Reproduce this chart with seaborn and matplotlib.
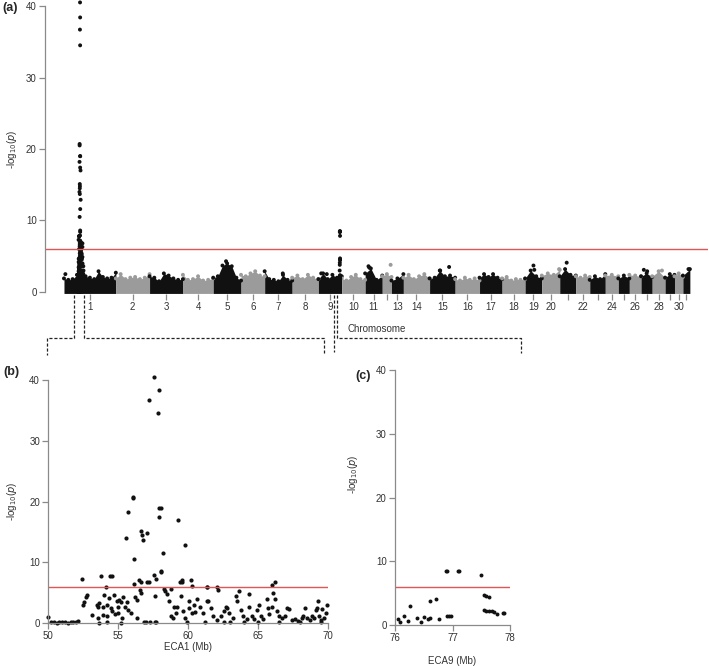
import numpy as np
import pandas as pd
import matplotlib
matplotlib.use("Agg")
import matplotlib.pyplot as plt
from matplotlib.lines import Line2D
import seaborn as sns

# chromosome lengths (Mb), horse autosomes 1..31
chrom_len = [185.8, 120.9, 119.5, 108.6, 99.7, 84.7, 98.5, 94.1, 83.6, 83.9,
             61.3, 33.1, 42.6, 93.9, 91.6, 87.4, 80.8, 82.5, 59.9, 64.2,
             57.7, 49.9, 55.7, 46.7, 39.5, 41.9, 40.0, 46.2, 33.7, 30.1, 25.0]
chrom_tick_labels = ["1", "2", "3", "4", "5", "6", "7", "8", "9", "10",
                     "11", "", "13", "14", "15", "16", "17", "18", "19", "20",
                     "", "22", "", "24", "", "26", "", "28", "", "30", ""]

# upper edge of the dense cloud of SNPs, read along each chromosome
bulk_top = [
    [1.9, 1.7, 1.8, 2.4, 2.5, 2.2, 2.0, 1.8, 2.9, 2.1, 1.9, 2.0, 2.7],
    [1.9, 2.5, 1.8, 2.0, 2.1, 1.8, 2.0, 2.5],
    [2.2, 2.0, 1.5, 2.6, 2.3, 1.9, 1.7, 1.8],
    [2.4, 1.7, 1.8, 2.2, 1.6, 1.7, 1.9],
    [2.0, 2.2, 3.7, 4.0, 3.6, 2.0, 1.6],
    [2.4, 2.2, 2.6, 2.9, 2.3, 2.2],
    [2.9, 1.8, 1.7, 1.5, 2.4, 1.7, 1.6],
    [2.0, 2.3, 1.8, 2.4, 2.0, 1.8],
    [1.8, 2.6, 1.8, 2.4, 2.0, 2.2],
    [1.9, 1.6, 2.1, 2.4, 1.8, 1.7],
    [2.6, 3.3, 1.7, 2.3],
    [2.2, 2.5, 2.1],
    [1.6, 1.9, 2.5],
    [2.0, 2.4, 1.8, 2.2, 2.5, 1.9],
    [1.9, 2.0, 3.0, 2.2, 2.3, 2.0],
    [1.8, 1.6, 2.0, 1.7, 1.9, 1.6],
    [2.0, 2.5, 2.1, 2.5, 2.0, 1.8],
    [1.9, 2.1, 1.6, 1.8, 1.7, 1.8],
    [1.9, 3.0, 2.2, 1.9],
    [2.3, 2.6, 2.4, 3.1],
    [2.2, 3.2, 2.4, 2.3],
    [2.2, 2.0, 2.3, 2.1],
    [1.7, 2.2, 1.8, 2.5],
    [2.3, 2.4, 2.2],
    [1.9, 2.3, 1.9],
    [2.4, 2.3, 2.2],
    [2.2, 2.6, 2.1],
    [2.2, 2.9, 2.0],
    [2.0, 2.5, 2.4],
    [2.2, 2.6, 2.1],
    [2.3, 3.2],
]

# isolated SNPs above the cloud (chromosome, position in Mb, -log10 p)
extra_chr = [1, 5, 11, 11, 12, 15, 15, 19, 19, 21, 27, 27, 28, 20, 31, 7, 9, 9]
extra_mb = [5, 46, 12, 15, 30, 70, 38, 30, 33, 25, 10, 22, 35, 62, 20, 65, 10, 30]
extra_val = [2.5, 4.3, 3.6, 3.4, 3.8, 3.5, 3.0, 3.7, 3.1, 4.1, 3.1, 2.9, 3.0, 3.2, 3.2, 2.6, 2.6, 2.5]

# ECA1 50-70 Mb region
eca1_mb = [57.57, 57.90, 57.20, 57.88, 56.09, 56.09, 55.73, 57.90, 58.04, 57.92,
           59.31, 55.56, 56.66, 56.68, 56.80, 57.06, 59.79, 58.19, 56.13, 58.04,
           58.04, 57.54, 57.73, 59.45, 59.57, 52.39, 53.75, 54.40, 54.55, 54.10,
           56.16, 56.50, 56.60, 57.06, 57.23, 59.57, 60.21, 60.31, 61.34, 61.36,
           62.08, 66.00, 66.23,
           52.46, 52.53, 52.67, 52.80, 53.13, 53.53, 53.48, 53.58, 53.65, 53.90,
           53.90, 54.00, 54.17, 54.22, 54.37, 54.49, 54.56, 54.68, 54.77, 54.92,
           54.96, 55.00, 55.08, 55.18, 55.25, 55.32, 55.47, 55.60, 55.73, 55.90,
           56.23, 56.32, 56.35, 56.56, 56.66, 56.87, 57.30, 57.66, 57.64, 58.30,
           58.38, 58.47, 58.64, 58.78, 58.97, 58.80, 58.95, 59.14, 59.24, 59.50,
           59.64, 59.79, 60.05, 60.05, 60.26, 60.43, 60.52, 60.67, 60.88, 61.10,
           61.38, 61.46, 61.62, 61.81, 62.05, 62.17, 62.36, 62.58, 62.72, 62.82,
           62.96, 63.25, 63.41, 63.53, 63.68, 63.77, 63.91, 64.20, 64.37, 64.39,
           64.58, 64.73, 64.92, 65.10, 65.23, 65.40, 65.63, 65.73, 65.82, 66.00,
           66.10, 66.25, 66.35, 66.54, 66.70, 66.95, 67.06, 67.20, 67.42, 67.66,
           67.90, 68.14, 68.26, 68.38, 68.55, 68.73, 68.90, 69.02, 69.14, 69.21,
           69.33, 69.40, 69.52, 69.60, 69.74, 69.88, 69.98,
           50.00, 50.20, 50.40, 50.60, 50.80, 51.00, 51.20, 51.40, 51.60, 51.80,
           52.00, 52.10, 53.60, 54.20, 55.20, 57.00, 57.70, 59.90, 61.20, 62.60,
           63.00, 64.00, 65.00, 66.50, 68.00, 69.50]
eca1_val = [40.5, 38.4, 36.7, 34.5, 20.5, 20.7, 18.2, 19.0, 19.0, 17.4,
            17.0, 14.0, 15.1, 14.5, 13.7, 14.8, 12.9, 11.6, 10.5, 8.6,
            8.4, 7.9, 7.2, 6.7, 6.7, 7.3, 7.8, 7.8, 7.8, 6.0,
            6.4, 7.0, 6.7, 6.7, 6.7, 7.0, 7.0, 6.1, 6.0, 5.9,
            6.0, 6.3, 6.8,
            2.9, 3.45, 4.2, 4.65, 1.3, 0.9, 3.0, 2.6, 3.3, 2.6,
            1.3, 4.65, 3.0, 1.15, 4.05, 2.5, 1.9, 4.6, 1.5, 3.6,
            2.6, 1.6, 3.8, 3.4, 0.9, 4.2, 2.7, 3.4, 2.2, 1.6,
            4.2, 3.8, 0.9, 5.4, 5.0, 0.1, 0.1, 0.1, 4.5, 5.6,
            5.3, 4.8, 3.7, 5.6, 2.6, 1.2, 0.9, 1.6, 2.7, 4.5,
            1.9, 0.8, 3.7, 2.5, 1.6, 3.0, 1.75, 4.0, 2.7, 1.6,
            3.6, 3.7, 2.5, 1.1, 0.5, 5.5, 1.2, 1.9, 2.7, 2.5,
            1.6, 0.8, 4.5, 3.6, 5.3, 2.1, 1.1, 0.7, 4.7, 2.7,
            1.1, 0.65, 2.1, 3.0, 1.1, 0.65, 3.9, 2.5, 1.5, 2.7,
            4.9, 4.0, 1.9, 1.1, 0.8, 1.1, 2.5, 2.3, 0.55, 0.65,
            0.3, 0.8, 1.1, 2.5, 0.9, 0.55, 1.2, 0.75, 2.1, 2.5,
            3.6, 1.1, 0.55, 2.3, 0.8, 1.6, 3.0,
            1.0, 0.1, 0.2, 0.05, 0.15, 0.1, 0.2, 0.05, 0.1, 0.15,
            0.2, 0.3, 0.05, 0.1, 0.05, 0.1, 0.1, 0.1, 0.1, 0.2,
            0.1, 0.15, 0.1, 0.2, 0.1, 0.15]

# ECA9 76-78 Mb region
eca9_mb = [76.05, 76.09, 76.16, 76.22, 76.26, 76.39, 76.45, 76.50, 76.57, 76.61,
           76.60, 76.71, 76.77, 76.88, 76.91, 76.90, 76.94, 76.97, 77.09, 77.12,
           77.50, 77.55, 77.59, 77.63, 77.55, 77.59, 77.64, 77.68, 77.73, 77.78,
           77.87, 77.90]
eca9_val = [0.95, 0.5, 1.45, 0.7, 3.0, 1.05, 0.5, 1.3, 0.9, 1.05,
            3.8, 4.1, 0.9, 8.4, 8.4, 1.4, 1.4, 1.4, 8.5, 8.5,
            7.85, 4.7, 4.55, 4.45, 2.35, 2.25, 2.2, 2.2, 2.0, 1.75,
            1.85, 1.85]

threshold = 6

DARK = "#111111"
LIGHT = "#9b9b9b"
RED = "#e05555"
AXIS = "#8a8a8a"
TXT = "#333333"
W, H = 709, 666

sns.set_style("ticks")
plt.rcParams["font.family"] = ["Liberation Sans", "DejaVu Sans"]

starts = np.concatenate([[0], np.cumsum(chrom_len)[:-1]])
ends = starts + np.array(chrom_len)
centers = (starts + ends) / 2

fig = plt.figure(figsize=(W / 100, H / 100), dpi=100)


def px_axes(left, top, right, bottom):
    return fig.add_axes([left / W, 1 - bottom / H, (right - left) / W, (bottom - top) / H])


def style_axes(ax, bottom_spine=True):
    sns.despine(ax=ax)
    for s in ["left", "bottom"]:
        ax.spines[s].set_color(AXIS)
        ax.spines[s].set_linewidth(0.9)
    if not bottom_spine:
        ax.spines["bottom"].set_visible(False)
    ax.tick_params(length=4, width=0.9, color=AXIS, labelcolor=TXT, labelsize=7, pad=2)


ylab = r"-log$_{10}$($p$)"

# ---------- (a) genome-wide ----------
ax_a = px_axes(45, 0, 708, 294)
shade = []
bx, by = [], []
for i, tops in enumerate(bulk_top):
    col = DARK if i % 2 == 0 else LIGHT
    xs = np.linspace(starts[i], ends[i], len(tops))
    ax_a.fill_between(xs, -0.2, tops, color=col, lw=0)
    bx += list(xs)
    by += tops
    shade += ["d" if i % 2 == 0 else "l"] * len(tops)

for c, m, v in zip(extra_chr, extra_mb, extra_val):
    bx.append(starts[c - 1] + m)
    by.append(v)
    shade.append("d" if (c - 1) % 2 == 0 else "l")

for m, v in zip(eca1_mb, eca1_val):
    bx.append(starts[0] + m)
    by.append(v)
    shade.append("d")
for m, v in zip(eca9_mb, eca9_val):
    bx.append(starts[8] + m)
    by.append(v)
    shade.append("d")

df_a = pd.DataFrame({"pos": bx, "logp": by, "shade": shade})
sns.scatterplot(data=df_a, x="pos", y="logp", hue="shade", palette={"d": DARK, "l": LIGHT},
                s=8, linewidth=0, legend=False, ax=ax_a, clip_on=False)
ax_a.axhline(threshold, color=RED, lw=1)
ax_a.set_xlim(-68, 2308)
ax_a.set_ylim(-0.28, 40.84)
style_axes(ax_a, bottom_spine=False)
ax_a.spines["left"].set_bounds(0, 40)
ax_a.set_yticks([0, 10, 20, 30, 40])
ax_a.set_xticks(centers)
ax_a.set_xticklabels(chrom_tick_labels)
ax_a.set_xlabel("Chromosome", fontsize=7, color=TXT)
ax_a.xaxis.set_label_coords(0.5, -0.102)
ax_a.set_ylabel(ylab, fontsize=7, color=TXT)
ax_a.yaxis.set_label_coords(-0.039, 0.493)

# ---------- (b) ECA1 ----------
ax_b = px_axes(48.3, 380, 327.7, 623)
df_b = pd.DataFrame({"mb": eca1_mb, "logp": eca1_val})
sns.scatterplot(data=df_b, x="mb", y="logp", color=DARK, s=9, linewidth=0, ax=ax_b, clip_on=False)
ax_b.axhline(threshold, color=RED, lw=1)
ax_b.set_xlim(50, 70)
ax_b.set_ylim(0, 40)
style_axes(ax_b)
ax_b.set_xticks([50, 55, 60, 65, 70])
ax_b.set_yticks([0, 10, 20, 30, 40])
ax_b.set_xlabel("ECA1 (Mb)", fontsize=7, color=TXT)
ax_b.xaxis.set_label_coords(0.5, -0.08)
ax_b.set_ylabel(ylab, fontsize=7, color=TXT)
ax_b.yaxis.set_label_coords(-0.105, 0.5)

# ---------- (c) ECA9 ----------
ax_c = px_axes(395, 370, 510, 625)
df_c = pd.DataFrame({"mb": eca9_mb, "logp": eca9_val})
sns.scatterplot(data=df_c, x="mb", y="logp", color=DARK, s=8, linewidth=0, ax=ax_c, clip_on=False)
ax_c.axhline(threshold, color=RED, lw=1)
ax_c.set_xlim(76, 78)
ax_c.set_ylim(0, 40)
style_axes(ax_c)
ax_c.set_xticks([76, 77, 78])
ax_c.set_yticks([0, 10, 20, 30, 40])
ax_c.set_xlabel("ECA9 (Mb)", fontsize=7, color=TXT)
ax_c.xaxis.set_label_coords(0.5, -0.12)
ax_c.set_ylabel(ylab, fontsize=7, color=TXT)
ax_c.yaxis.set_label_coords(-0.30, 0.59)

# panel letters
for lab, x, y in [("(a)", 2, 8), ("(b)", 3, 372), ("(c)", 355, 376)]:
    fig.text(x / W, 1 - y / H, lab, fontsize=9, fontweight="bold", va="center", ha="left")

# dashed connectors from zoomed regions
connectors = [
    [(74.3, 295), (74.3, 337.7), (47.3, 337.7), (47.3, 355)],
    [(84, 295), (84, 337.7), (324.3, 337.7), (324.3, 353)],
    [(334, 295), (334, 352)],
    [(337.3, 295), (337.3, 337.7), (520.7, 337.7), (520.7, 353)],
]
for path in connectors:
    xs = [p[0] / W for p in path]
    ys = [1 - p[1] / H for p in path]
    fig.add_artist(Line2D(xs, ys, color="#222222", lw=0.9, ls=(0, (2.5, 1.5))))

fig.savefig("out.png", dpi=100)
